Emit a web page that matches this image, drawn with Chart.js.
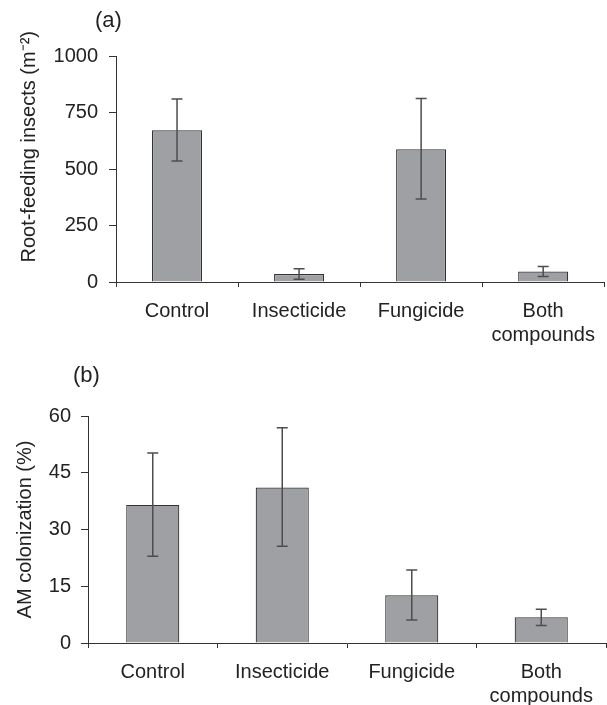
<!DOCTYPE html>
<html>
<head>
<meta charset="utf-8">
<script src="https://cdn.jsdelivr.net/npm/chart.js@4/dist/chart.umd.min.js"></script>
<style>
  body { margin: 0; background: #fff; width: 607px; height: 705px; position: relative; overflow: hidden; }
  .box { position: absolute; left: 0; width: 607px; }
  .panel { position: absolute; font: 22px "Liberation Sans", Arial, sans-serif; color: #222; line-height: 1; }
</style>
</head>
<body>
<div class="box" style="top:0;height:350px"><canvas id="chart-a"></canvas></div>
<div class="box" style="top:350px;height:355px"><canvas id="chart-b"></canvas></div>
<div class="panel" style="left:95px;top:9px">(a)</div>
<div class="panel" style="left:73px;top:364px">(b)</div>
<script>
// categories shared by both panels
const categories = ['Control', 'Insecticide', 'Fungicide', ['Both', 'compounds']];

// (a) root-feeding insects per m2
const insects = [671, 35, 587, 46];
const insectsLow = [535, 12, 367, 24];
const insectsHigh = [810, 59, 812, 69];
const insectsTicks = [0, 250, 500, 750, 1000];

// (b) AM colonization %
const amCol = [36.5, 41.1, 12.6, 6.8];
const amColLow = [22.9, 25.6, 6.1, 4.6];
const amColHigh = [50.2, 56.9, 19.3, 8.9];
const amColTicks = [0, 15, 30, 45, 60];

const FONT = '"Liberation Sans", Arial, sans-serif';

// draws whiskers from the low/high arrays through the y scale
const errorBars = {
    id: 'errorBars',
    afterDatasetsDraw(chart, args, opts) {
        const ctx = chart.ctx;
        const meta = chart.getDatasetMeta(0);
        const y = chart.scales.y;
        ctx.save();
        ctx.strokeStyle = opts.color;
        ctx.lineWidth = 1.5;
        meta.data.forEach(function (bar, i) {
            const top = y.getPixelForValue(opts.high[i]);
            const bot = y.getPixelForValue(opts.low[i]);
            ctx.beginPath();
            ctx.moveTo(bar.x, top); ctx.lineTo(bar.x, bot);
            ctx.moveTo(bar.x - 5.5, top); ctx.lineTo(bar.x + 5.5, top);
            ctx.moveTo(bar.x - 5.5, bot); ctx.lineTo(bar.x + 5.5, bot);
            ctx.stroke();
        });
        ctx.restore();
    }
};

function makeChart(id, values, low, high, ticks, title, pad, yWidth, xHeight, titlePad, tickPad) {
    const ctx = document.getElementById(id).getContext('2d');
    return new Chart(ctx, {
        type: 'bar',
        data: {
            labels: categories,
            datasets: [{
                data: values,
                backgroundColor: '#9fa0a4',
                borderColor: '#333333',
                borderWidth: 1.2,
                categoryPercentage: 1,
                barPercentage: 0.41
            }]
        },
        options: {
            responsive: true,
            maintainAspectRatio: false,
            animation: false,
            layout: { padding: pad },
            plugins: {
                legend: { display: false },
                tooltip: { enabled: false },
                errorBars: { low: low, high: high, color: '#4d4d4d' }
            },
            scales: {
                x: {
                    grid: { display: true, drawOnChartArea: false, drawTicks: true, tickLength: 5, color: '#333', offset: true },
                    border: { display: true, color: '#333', width: 1 },
                    ticks: { color: '#222', padding: 12, font: { family: FONT, size: 20, lineHeight: 1.2 }, maxRotation: 0, autoSkip: false },
                    afterFit: function (s) { s.height = xHeight; }
                },
                y: {
                    min: ticks[0],
                    max: ticks[ticks.length - 1],
                    afterBuildTicks: function (s) { s.ticks = ticks.map(function (v) { return { value: v }; }); },
                    grid: { display: true, drawOnChartArea: false, drawTicks: true, tickLength: 7, color: '#333' },
                    border: { display: true, color: '#333', width: 1 },
                    ticks: {
                        color: '#222', padding: tickPad, font: { family: FONT, size: 20 },
                        callback: function (v) { return String(v); }
                    },
                    title: { display: true, text: title, color: '#222', padding: { top: titlePad, bottom: 0 }, font: { family: FONT, size: 20 } },
                    afterFit: function (s) { s.width = yWidth; }
                }
            }
        },
        plugins: [errorBars]
    });
}

makeChart('chart-a', insects, insectsLow, insectsHigh, insectsTicks,
    '        Root-feeding insects (m\u207B\u00B2)', { top: 56, right: 1, left: 0, bottom: 0 }, 116, 68, 17, 11);
makeChart('chart-b', amCol, amColLow, amColHigh, amColTicks,
    'AM colonization (%)', { top: 66, right: 1, left: 0, bottom: 0 }, 88, 62, 13, 10);
</script>
</body>
</html>
